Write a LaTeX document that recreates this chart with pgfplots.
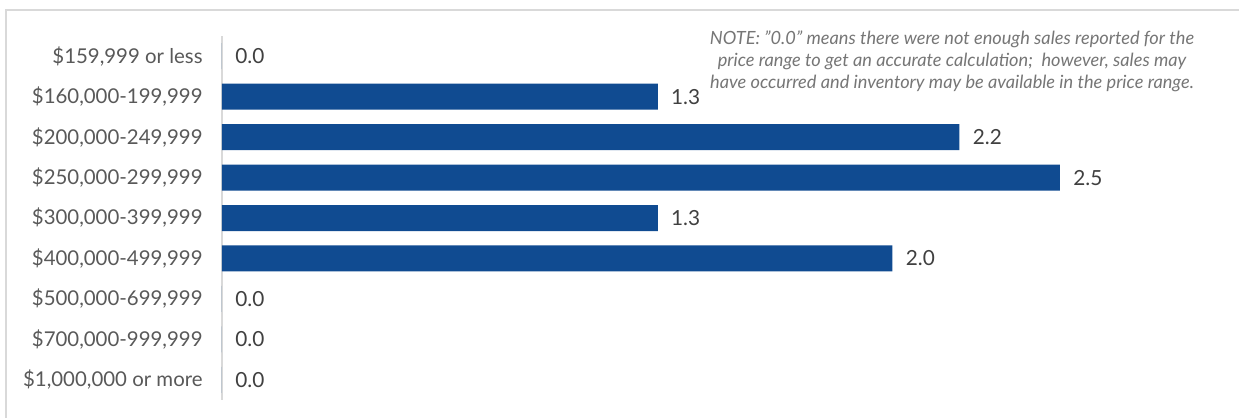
\documentclass[border=0pt]{standalone}
\usepackage{pgfplots}
\pgfplotsset{compat=1.18}
\usepackage{fontspec}
\setmainfont{Lato}
\definecolor{barblue}{RGB}{16,75,145}
\definecolor{ticktext}{RGB}{89,89,89}
\definecolor{labeltext}{RGB}{64,64,64}
\definecolor{frame}{RGB}{217,217,217}
\definecolor{notetext}{RGB}{118,118,118}

% 1 px of the reference = 0.5pt
\pgfplotstableread{
pos value
0 0.0
1 1.3
2 2.2
3 2.5
4 1.3
5 2.0
6 0.0
7 0.0
8 0.0
}\salesdata

\begin{document}
\begin{tikzpicture}
\useasboundingbox (0,0) rectangle (619.5pt,209pt);
\fill[white] (0,0) rectangle (619.5pt,209pt);
\draw[frame, line width=0.75pt] (3pt,-5pt) -- (3pt,204pt) -- (625pt,204pt);
\begin{axis}[
    at={(111pt,9pt)}, anchor=south west,
    scale only axis,
    width=502.8pt, height=182pt,
    xbar, bar width=13pt,
    xmin=0, xmax=3,
    ymin=-0.5, ymax=8.5,
    y dir=reverse,
    axis x line=none,
    axis y line*=left,
    y axis line style={frame, line width=0.8pt, -},
    ytick={0,...,8},
    yticklabels={{\$159,999 or less},{\$160,000-199,999},{\$200,000-249,999},{\$250,000-299,999},{\$300,000-399,999},{\$400,000-499,999},{\$500,000-699,999},{\$700,000-999,999},{\$1,000,000 or more}},
    major tick length=0pt,
    yticklabel style={font=\fontsize{10.2}{12}\selectfont, text=ticktext, inner sep=0pt, xshift=-9.5pt},
    nodes near coords,
    nodes near coords align={horizontal},
    every node near coord/.append style={font=\fontsize{10.4}{12}\selectfont, text=labeltext, anchor=west, inner sep=0pt, xshift=6.5pt,
      /pgf/number format/.cd, fixed, fixed zerofill, precision=1, assume math mode=true},
    clip=false,
]
\addplot[fill=barblue, draw=none] table[x=value, y=pos] {\salesdata};
\end{axis}
\node[align=center, text=notetext, font=\itshape\fontsize{9.1}{11}\selectfont] at (476pt,178.5pt)
  {NOTE: \symbol{34}0.0\symbol{34} means there were not enough sales reported for the\\
   price range to get an accurate calculation;\ \ however, sales may\\
   have occurred and inventory may be available in the price range.};
\end{tikzpicture}
\end{document}
